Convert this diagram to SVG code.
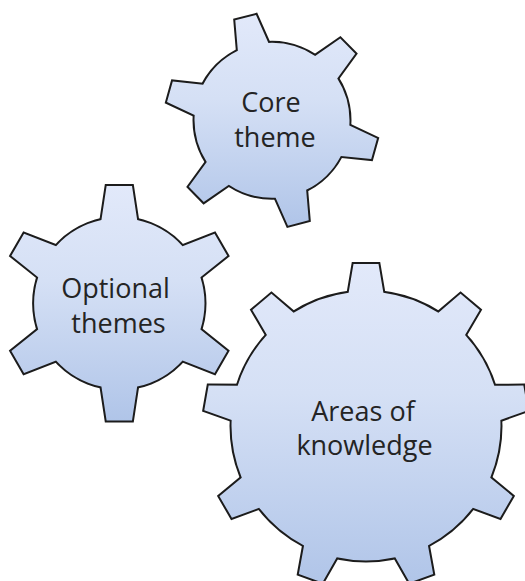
<svg xmlns="http://www.w3.org/2000/svg" xmlns:xlink="http://www.w3.org/1999/xlink" width="525" height="581" viewBox="0 0 525 581">
<style>
  .outline { fill: none; stroke: #1c1c1c; stroke-width: 4; stroke-linejoin: miter; }
  .label { font-family: "Open Sans", "Noto Sans", "DejaVu Sans", sans-serif; font-size: 27px; fill: #242424; text-anchor: middle; }
</style>
<defs>
  <linearGradient id="gearFill" x1="0" y1="0" x2="0" y2="1">
    <stop offset="0" stop-color="#e2e9fa"/>
    <stop offset="0.4" stop-color="#d5e0f5"/>
    <stop offset="1" stop-color="#afc4e8"/>
  </linearGradient>
  <polygon id="toothS" points="-17.6,-65 -10.7,-106 10.7,-106 17.6,-65"/>
  <polygon id="toothM" points="-19.9,-70 -12.7,-117.3 12.7,-117.3 19.9,-70"/>
  <polygon id="toothL" points="-20,-118 -12.5,-162 12.5,-162 20,-118"/>
  <clipPath id="clipCore">
    <circle cx="272" cy="120.3" r="77.5"/>
    <use xlink:href="#toothS" href="#toothS" transform="translate(272 120.3) rotate(-14.4)"/>
    <use xlink:href="#toothS" href="#toothS" transform="translate(272 120.3) rotate(45.6)"/>
    <use xlink:href="#toothS" href="#toothS" transform="translate(272 120.3) rotate(105.6)"/>
    <use xlink:href="#toothS" href="#toothS" transform="translate(272 120.3) rotate(165.6)"/>
    <use xlink:href="#toothS" href="#toothS" transform="translate(272 120.3) rotate(225.6)"/>
    <use xlink:href="#toothS" href="#toothS" transform="translate(272 120.3) rotate(285.6)"/>
  </clipPath>
  <clipPath id="clipOptional">
    <circle cx="119.3" cy="303.3" r="85.2"/>
    <use xlink:href="#toothM" href="#toothM" transform="translate(119.3 303.3) rotate(0)"/>
    <use xlink:href="#toothM" href="#toothM" transform="translate(119.3 303.3) rotate(60)"/>
    <use xlink:href="#toothM" href="#toothM" transform="translate(119.3 303.3) rotate(120)"/>
    <use xlink:href="#toothM" href="#toothM" transform="translate(119.3 303.3) rotate(180)"/>
    <use xlink:href="#toothM" href="#toothM" transform="translate(119.3 303.3) rotate(240)"/>
    <use xlink:href="#toothM" href="#toothM" transform="translate(119.3 303.3) rotate(300)"/>
  </clipPath>
  <clipPath id="clipAreas">
    <circle cx="366" cy="426" r="134.5"/>
    <use xlink:href="#toothL" href="#toothL" transform="translate(366 426) rotate(0)"/>
    <use xlink:href="#toothL" href="#toothL" transform="translate(366 426) rotate(40)"/>
    <use xlink:href="#toothL" href="#toothL" transform="translate(366 426) rotate(80)"/>
    <use xlink:href="#toothL" href="#toothL" transform="translate(366 426) rotate(120)"/>
    <use xlink:href="#toothL" href="#toothL" transform="translate(366 426) rotate(160)"/>
    <use xlink:href="#toothL" href="#toothL" transform="translate(366 426) rotate(200)"/>
    <use xlink:href="#toothL" href="#toothL" transform="translate(366 426) rotate(240)"/>
    <use xlink:href="#toothL" href="#toothL" transform="translate(366 426) rotate(280)"/>
    <use xlink:href="#toothL" href="#toothL" transform="translate(366 426) rotate(320)"/>
  </clipPath>
</defs>

<rect x="0" y="0" width="525" height="581" fill="#ffffff"/>

<g id="gear-core">
  <g class="outline" transform="translate(272 120.3)">
    <circle r="77.5"/>
    <use xlink:href="#toothS" href="#toothS" transform="rotate(-14.4)"/>
    <use xlink:href="#toothS" href="#toothS" transform="rotate(45.6)"/>
    <use xlink:href="#toothS" href="#toothS" transform="rotate(105.6)"/>
    <use xlink:href="#toothS" href="#toothS" transform="rotate(165.6)"/>
    <use xlink:href="#toothS" href="#toothS" transform="rotate(225.6)"/>
    <use xlink:href="#toothS" href="#toothS" transform="rotate(285.6)"/>
  </g>
  <rect x="160" y="12" width="225" height="218" fill="url(#gearFill)" clip-path="url(#clipCore)"/>
  <text class="label" x="271" y="112">Core</text>
  <text class="label" x="275" y="147">theme</text>
</g>

<g id="gear-optional">
  <g class="outline" transform="translate(119.3 303.3)">
    <circle r="85.2"/>
    <use xlink:href="#toothM" href="#toothM" transform="rotate(0)"/>
    <use xlink:href="#toothM" href="#toothM" transform="rotate(60)"/>
    <use xlink:href="#toothM" href="#toothM" transform="rotate(120)"/>
    <use xlink:href="#toothM" href="#toothM" transform="rotate(180)"/>
    <use xlink:href="#toothM" href="#toothM" transform="rotate(240)"/>
    <use xlink:href="#toothM" href="#toothM" transform="rotate(300)"/>
  </g>
  <rect x="0" y="184" width="240" height="240" fill="url(#gearFill)" clip-path="url(#clipOptional)"/>
  <text class="label" x="115.5" y="298">Optional</text>
  <text class="label" x="118.5" y="333">themes</text>
</g>

<g id="gear-areas">
  <g class="outline" transform="translate(366 426)">
    <circle r="134.5"/>
    <use xlink:href="#toothL" href="#toothL" transform="rotate(0)"/>
    <use xlink:href="#toothL" href="#toothL" transform="rotate(40)"/>
    <use xlink:href="#toothL" href="#toothL" transform="rotate(80)"/>
    <use xlink:href="#toothL" href="#toothL" transform="rotate(120)"/>
    <use xlink:href="#toothL" href="#toothL" transform="rotate(160)"/>
    <use xlink:href="#toothL" href="#toothL" transform="rotate(200)"/>
    <use xlink:href="#toothL" href="#toothL" transform="rotate(240)"/>
    <use xlink:href="#toothL" href="#toothL" transform="rotate(280)"/>
    <use xlink:href="#toothL" href="#toothL" transform="rotate(320)"/>
  </g>
  <rect x="200" y="262" width="335" height="328" fill="url(#gearFill)" clip-path="url(#clipAreas)"/>
  <text class="label" x="363" y="421">Areas of</text>
  <text class="label" x="364.5" y="455">knowledge</text>
</g>
</svg>
